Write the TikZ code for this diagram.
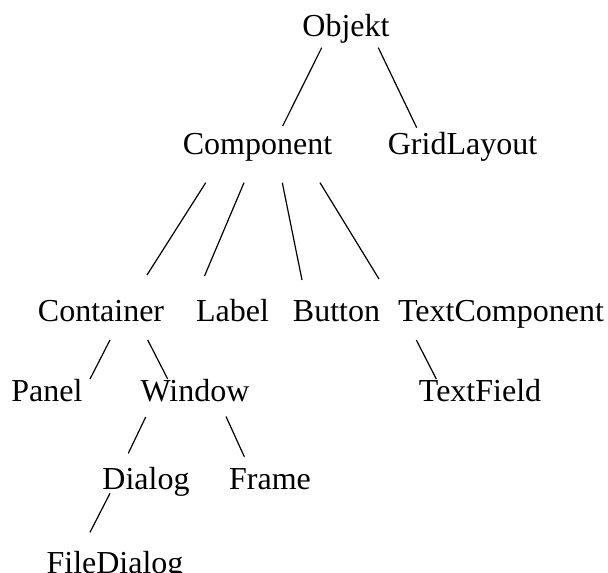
\documentclass[tikz,border=0pt]{standalone}
\usepackage{fontspec}
\setmainfont{Liberation Serif}
\usetikzlibrary{calc}
\begin{document}
\begin{tikzpicture}[x=1pt,y=-1pt,
    cls/.style={anchor=base,inner sep=0pt,outer sep=0pt,text height=22pt,text depth=7pt,font=\fontsize{32}{38}\selectfont},
    link/.style={line width=1.2pt}]
            \useasboundingbox (0,0) rectangle (608,573);
            \node [cls] (objekt) at (346,36) {Objekt};
            \node [cls] (component) at (257.5,154) {Component};
            \node [cls] (gridlayout) at (462.5,154) {GridLayout};
            \node [cls] (container) at (101,321.7) {Container};
            \node [cls] (label) at (232.5,321.7) {Label};
            \node [cls] (button) at (336.5,321.7) {Button};
            \node [cls] (textcomp) at (501,321.7) {TextComponent};
            \node [cls] (panel) at (47,401.7) {Panel};
            \node [cls] (window) at (195,401.7) {Window};
            \node [cls] (textfield) at (480,401.7) {TextField};
            \node [cls] (dialog) at (146,489.3) {Dialog};
            \node [cls] (frame) at (270,489.3) {Frame};
            \node [cls] (filedialog) at (115,573) {FileDialog};
            % links
            \draw [link] ($(objekt.south)+(-24.3,4.7)$) -- ($(component.north)+(25.2,-6)$);
            \draw [link] ($(objekt.south)+(32.3,4.7)$) -- ($(gridlayout.north)+(-45.8,-4.3)$);
            \draw [link] ($(component.south)+(-51.8,21.7)$) -- ($(container.north)+(46,-24.7)$);
            \draw [link] ($(component.south)+(-13.5,21.7)$) -- ($(label.north)+(-28,-23.7)$);
            \draw [link] ($(component.south)+(24.8,21.7)$) -- ($(button.north)+(-34.5,-19.7)$);
            \draw [link] ($(component.south)+(62.5,21.7)$) -- ($(textcomp.north)+(-122,-20.7)$);
            \draw [link] ($(container.south)+(9,11.3)$) -- ($(panel.north)+(43,-0.7)$);
            \draw [link] ($(container.south)+(46.7,11.3)$) -- ($(window.north)+(-27.3,-0.7)$);
            \draw [link] ($(textcomp.south)+(-84.7,11.3)$) -- ($(textfield.north)+(-43.7,-0.7)$);
            \draw [link] ($(window.south)+(-49.3,8.3)$) -- ($(dialog.north)+(-17.7,-14)$);
            \draw [link] ($(window.south)+(31,7.8)$) -- ($(frame.north)+(-25.7,-10.6)$);
            \draw [link] ($(dialog.south)+(-36,-3)$) -- ($(filedialog.north)+(-25,-18.7)$);
\end{tikzpicture}
\end{document}
